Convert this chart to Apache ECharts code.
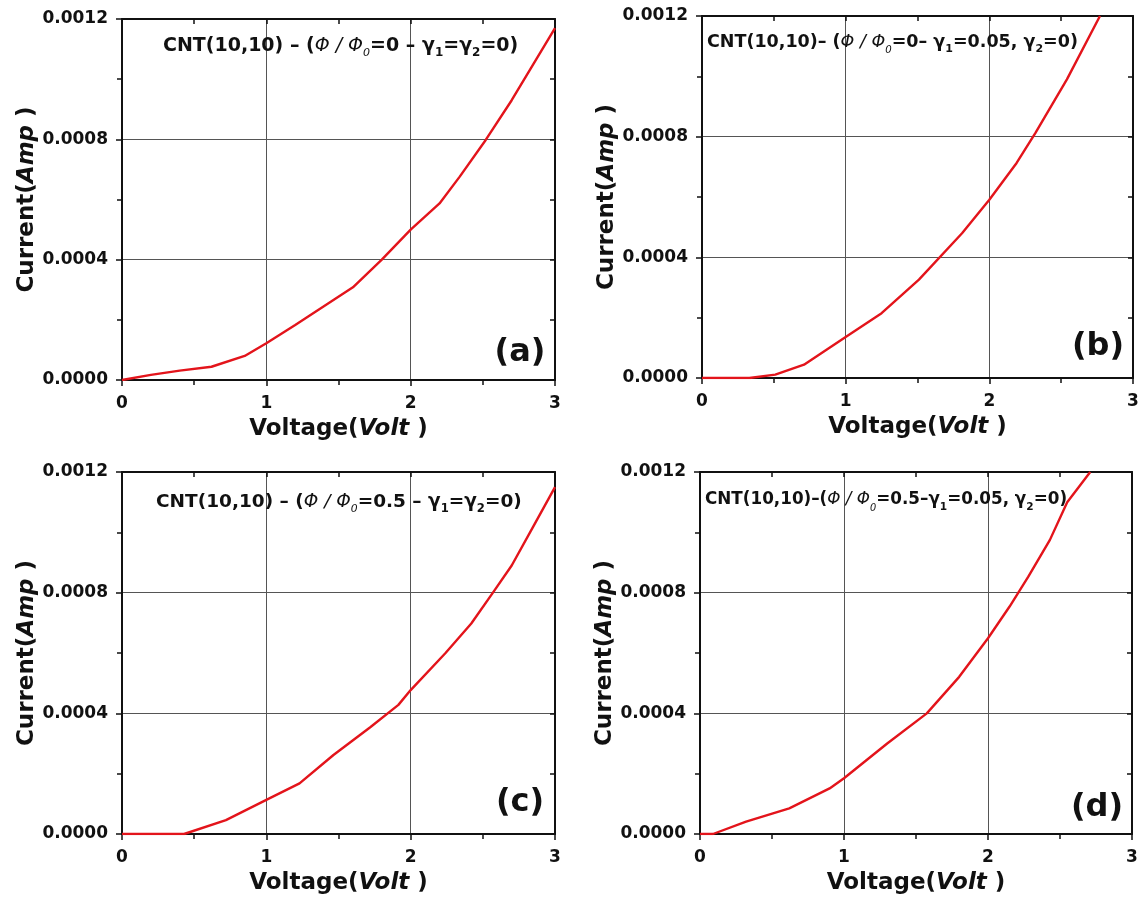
<!DOCTYPE html>
<html>
<head>
<meta charset="utf-8">
<script src="https://cdn.jsdelivr.net/npm/echarts@6/dist/echarts.min.js"></script>
<style>
  body { margin: 0; background: #fff; }
  #main { width: 1146px; height: 902px; }
</style>
</head>
<body>
<div id="main"></div>
<script>
  // (a) phi/phi0 = 0, gamma1 = gamma2 = 0
  const voltA = [0, 0.2, 0.4, 0.62, 0.85, 1.0, 1.2, 1.6, 1.8, 2.0, 2.2, 2.34, 2.52, 2.7, 2.85, 3.0]
  const currA = [0, 0.000017, 0.000031, 0.000044, 0.00008, 0.000122, 0.000183, 0.000308, 0.0004, 0.0005, 0.000587, 0.000676, 0.000798, 0.00093, 0.00105, 0.00117]
  // (b) phi/phi0 = 0, gamma1 = 0.05
  const voltB = [0, 0.33, 0.51, 0.71, 1.0, 1.25, 1.51, 1.81, 2.0, 2.19, 2.32, 2.54, 2.77]
  const currB = [0, 0, 0.000011, 0.000044, 0.000136, 0.000215, 0.000326, 0.00048, 0.000591, 0.000713, 0.000812, 0.00099, 0.0012]
  // (c) phi/phi0 = 0.5, gamma1 = gamma2 = 0
  const voltC = [0, 0.43, 0.72, 1.0, 1.23, 1.465, 1.72, 1.915, 2.0, 2.24, 2.42, 2.57, 2.7, 2.85, 3.0]
  const currC = [0, 0, 0.000046, 0.000113, 0.000168, 0.000262, 0.000354, 0.000428, 0.000477, 0.000599, 0.000698, 0.0008, 0.00089, 0.00102, 0.00115]
  // (d) phi/phi0 = 0.5, gamma1 = 0.05
  const voltD = [0, 0.09, 0.32, 0.62, 0.9, 1.0, 1.3, 1.575, 1.8, 2.0, 2.15, 2.28, 2.43, 2.55, 2.71]
  const currD = [0, 0, 0.000041, 0.000085, 0.000151, 0.000185, 0.0003, 0.0004, 0.000521, 0.000649, 0.000754, 0.000853, 0.000975, 0.0011, 0.0012]

  const xTicks = [0, 1, 2, 3]
  const yTicks = [0, 0.0004, 0.0008, 0.0012]

  const notes = [
    '{n|CNT(10,10) – (}{i|Φ / Φ}{is|0}{n|=0 – γ}{s|1}{n|=γ}{s|2}{n|=0)}',
    '{n|CNT(10,10)– (}{i|Φ / Φ}{is|0}{n|=0– γ}{s|1}{n|=0.05, γ}{s|2}{n|=0)}',
    '{n|CNT(10,10) – (}{i|Φ / Φ}{is|0}{n|=0.5 – γ}{s|1}{n|=γ}{s|2}{n|=0)}',
    '{n|CNT(10,10)–(}{i|Φ / Φ}{is|0}{n|=0.5–γ}{s|1}{n|=0.05, γ}{s|2}{n|=0)}'
  ]
  const panelNames = ['(a)', '(b)', '(c)', '(d)']

  const FONT = 'DejaVu Sans'

  const grids = [
    {left: 122, top: 19, width: 433, height: 361},
    {left: 702, top: 16, width: 431, height: 362},
    {left: 122, top: 472, width: 433, height: 362},
    {left: 700, top: 472, width: 432, height: 362}
  ]
  const notePos = [[163, 33], [707, 29], [156, 489], [705, 487]]
  const noteSize = [19, 17.5, 18.5, 16.8]
  const labelPos = [[520, 353], [1098, 347], [520, 803], [1097, 808]]

  function richNote (size) {
    return {
      n: {fontFamily: FONT, fontWeight: 'bold', fontSize: size, lineHeight: 26, color: '#111'},
      i: {fontFamily: FONT, fontWeight: 'normal', fontStyle: 'italic', fontSize: size, lineHeight: 26, color: '#111'},
      s: {fontFamily: FONT, fontWeight: 'bold', fontSize: size * 0.63, lineHeight: 12, verticalAlign: 'bottom', color: '#111'},
      is: {fontFamily: FONT, fontWeight: 'normal', fontStyle: 'italic', fontSize: size * 0.58, lineHeight: 12, verticalAlign: 'bottom', color: '#111'}
    }
  }
  const richTitle = {
    n: {fontFamily: FONT, fontWeight: 'bold', fontSize: 23, color: '#111'},
    i: {fontFamily: FONT, fontWeight: 'bold', fontStyle: 'italic', fontSize: 23, color: '#111'}
  }

  function xAxisPair (gi) {
    return [
      {
        type: 'value', gridIndex: gi, position: 'bottom',
        min: xTicks[0], max: xTicks[xTicks.length - 1], interval: 1,
        name: '{n|Voltage(}{i|Volt}{n| )}', nameLocation: 'middle', nameGap: 38,
        nameTextStyle: {rich: richTitle},
        axisLine: {onZero: false, lineStyle: {color: '#111', width: 2}},
        axisTick: {length: 6, lineStyle: {color: '#111', width: 1.5}},
        minorTick: {show: true, splitNumber: 2, length: 5, lineStyle: {color: '#111', width: 1.5}},
        axisLabel: {margin: 15, fontFamily: FONT, fontWeight: 'bold', fontSize: 17, color: '#111'},
        splitLine: {show: true, lineStyle: {color: '#555', width: 1}}
      },
      {
        type: 'value', gridIndex: gi, position: 'top',
        min: xTicks[0], max: xTicks[xTicks.length - 1], interval: 1,
        axisLine: {onZero: false, lineStyle: {color: '#111', width: 2}},
        axisTick: {inside: true, length: 5, lineStyle: {color: '#111', width: 1.5}},
        minorTick: {show: true, splitNumber: 2, length: 5, lineStyle: {color: '#111', width: 1.5}},
        axisLabel: {show: false},
        splitLine: {show: false}
      }
    ]
  }

  function yAxisPair (gi) {
    return [
      {
        type: 'value', gridIndex: gi, position: 'left',
        min: yTicks[0], max: yTicks[yTicks.length - 1], interval: 0.0004,
        name: '{n|Current(}{i|Amp}{n| )}', nameLocation: 'middle', nameGap: 80, nameRotate: 90,
        nameTextStyle: {rich: richTitle},
        axisLine: {onZero: false, lineStyle: {color: '#111', width: 2}},
        axisTick: {length: 6, lineStyle: {color: '#111', width: 1.5}},
        minorTick: {show: true, splitNumber: 2, length: 5, lineStyle: {color: '#111', width: 1.5}},
        axisLabel: {
          margin: 14, fontFamily: FONT, fontWeight: 'bold', fontSize: 17, color: '#111',
          formatter: function (v) { return v.toFixed(4) }
        },
        splitLine: {show: true, lineStyle: {color: '#555', width: 1}}
      },
      {
        type: 'value', gridIndex: gi, position: 'right',
        min: yTicks[0], max: yTicks[yTicks.length - 1], interval: 0.0004,
        axisLine: {onZero: false, lineStyle: {color: '#111', width: 2}},
        axisTick: {inside: true, length: 5, lineStyle: {color: '#111', width: 1.5}},
        minorTick: {show: true, splitNumber: 2, length: 5, lineStyle: {color: '#111', width: 1.5}},
        axisLabel: {show: false},
        splitLine: {show: false}
      }
    ]
  }

  function pairs (xs, ys) {
    return xs.map(function (x, k) { return [x, ys[k]] })
  }

  const curves = [[voltA, currA], [voltB, currB], [voltC, currC], [voltD, currD]]

  let xAxes = [], yAxes = [], series = [], titles = [], graphics = []
  for (let i = 0; i < 4; i++) {
    xAxes = xAxes.concat(xAxisPair(i))
    yAxes = yAxes.concat(yAxisPair(i))
    series.push({
      type: 'line',
      xAxisIndex: i * 2,
      yAxisIndex: i * 2,
      data: pairs(curves[i][0], curves[i][1]),
      showSymbol: false,
      symbol: 'none',
      clip: true,
      lineStyle: {color: '#e3141b', width: 2.4},
      z: 5
    })
    titles.push({
      left: notePos[i][0], top: notePos[i][1], padding: 0,
      text: notes[i],
      textStyle: {rich: richNote(noteSize[i])}
    })
    graphics.push({
      type: 'text',
      x: labelPos[i][0], y: labelPos[i][1],
      style: {
        text: panelNames[i], fill: '#111',
        font: 'bold 32px "DejaVu Sans"',
        textAlign: 'center', textVerticalAlign: 'middle'
      },
      z: 10
    })
  }

  let chart = echarts.init(document.getElementById('main'))
  chart.setOption({
    backgroundColor: '#fff',
    animation: false,
    title: titles,
    grid: grids,
    xAxis: xAxes,
    yAxis: yAxes,
    series: series,
    graphic: graphics
  })
</script>
</body>
</html>
